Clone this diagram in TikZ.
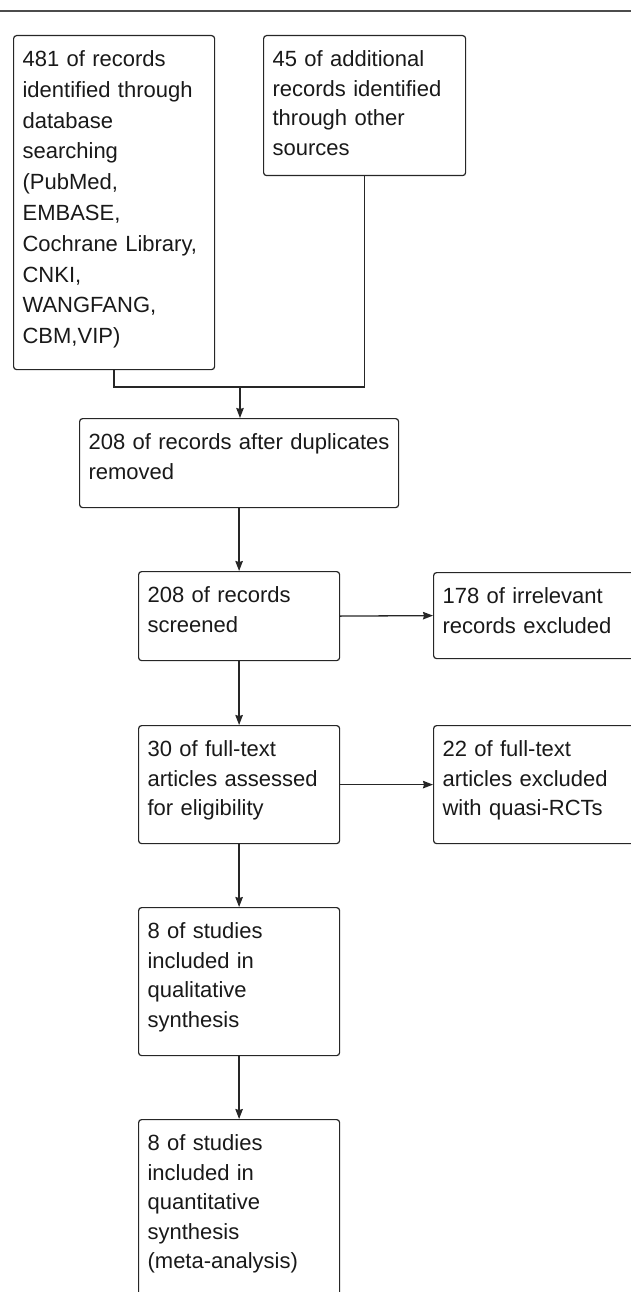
\documentclass[tikz,border=0pt]{standalone}
\usepackage{fontspec}
\setmainfont{Liberation Sans}
\usetikzlibrary{arrows.meta}

\begin{document}
\begin{tikzpicture}[x=1pt,y=-1pt,
        box/.style={draw=black!85,line width=1.2pt,rounded corners=3pt,anchor=north west,
            inner xsep=9pt,inner ysep=0pt,align=left,text height=31pt,text=black!90},
        link/.style={draw=black!85,line width=1.3pt},
        tip/.tip={Stealth[length=10pt,width=7.5pt,inset=1pt]},
        arr/.style={link,-tip},
        font=\fontsize{22}{29.5}\selectfont]

    \useasboundingbox (0,0) rectangle (631,1292);
    \draw[line width=2pt,black!70] (0,11) -- (631,11);

    \node[box,text width=183pt,text depth=303pt,font=\fontsize{22}{30.8}\selectfont] (db) at (13,35)
        {481 of records\\identified through\\database\\searching\\(PubMed,\\EMBASE,\\Cochrane Library,\\CNKI,\\WANGFANG,\\CBM,VIP)};
    \node[box,text width=184pt,text depth=109pt] (other) at (263,35)
        {45 of additional\\records identified\\through other\\sources};
    \node[box,text width=301pt,text depth=58pt] (dup) at (79,418)
        {208 of records after duplicates\\removed};
    \node[box,text width=183pt,text depth=58pt] (screen) at (138,571)
        {208 of records\\screened};
    \node[box,text width=183pt,text depth=55pt] (irrel) at (433,572)
        {178 of irrelevant\\records excluded};
    \node[box,text width=183pt,text depth=87pt] (full) at (138,725)
        {30 of full-text\\articles assessed\\for eligibility};
    \node[box,text width=183pt,text depth=87pt] (quasi) at (433,725)
        {22 of full-text\\articles excluded\\with quasi-RCTs};
    \node[box,text width=183pt,text depth=117pt] (qual) at (138,907)
        {8 of studies\\included in\\qualitative\\synthesis};
    \node[box,text width=183pt,text depth=150pt] (quant) at (138,1119)
        {8 of studies\\included in\\quantitative\\synthesis\\(meta-analysis)};

    \coordinate (join) at (240,387);
    \draw[link] (db.south) |- (join) -| (other.south);
    \draw[arr] (join) -- (join |- dup.north);
    \draw[arr] (dup.south) -- (screen.north);
    \draw[arr] (screen.east) -- (irrel.west);
    \draw[arr] (screen.south) -- (full.north);
    \draw[arr] (full.east) -- (quasi.west);
    \draw[arr] (full.south) -- (qual.north);
    \draw[arr] (qual.south) -- (quant.north);
\end{tikzpicture}
\end{document}
